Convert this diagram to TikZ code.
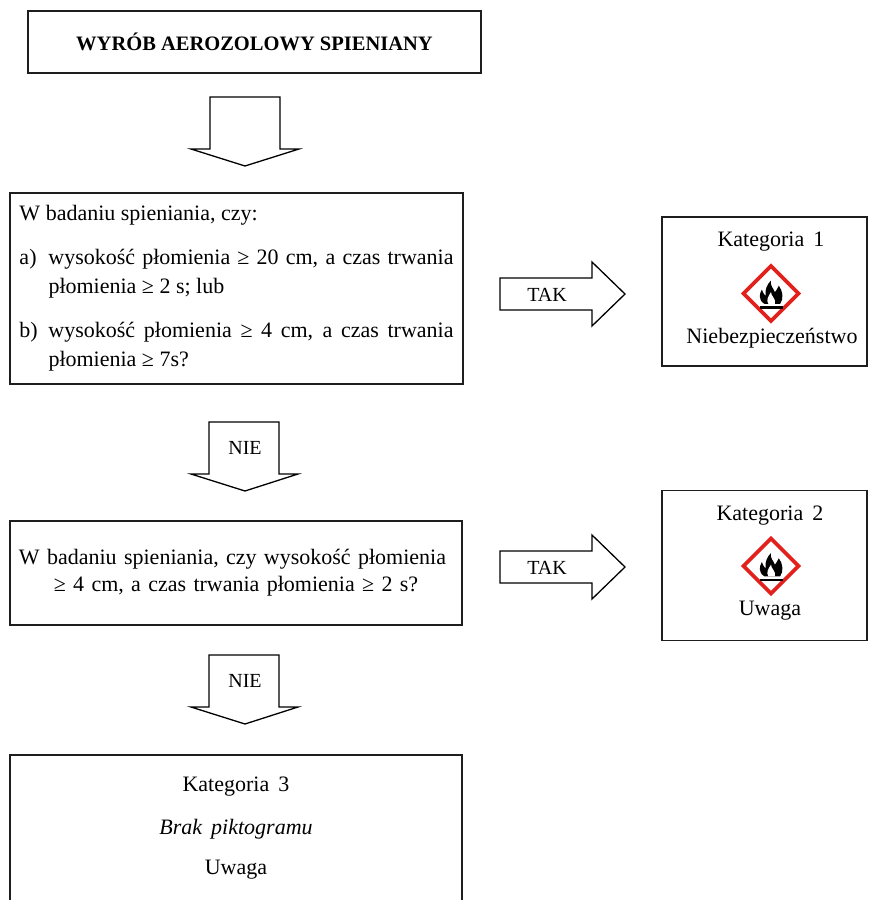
\documentclass[tikz,border=0pt]{standalone}
\usepackage{fontspec}
\setmainfont{Liberation Serif}
\definecolor{ghsred}{RGB}{226,32,28}
\definecolor{frame}{RGB}{30,30,30}
\tikzset{
  ghsflame/.pic={
    \draw[ghsred, line width=3.6pt, fill=white, line join=miter] (0,-27.5) -- (27.5,0) -- (0,27.5) -- (-27.5,0) -- cycle;
    \begin{scope}[scale=1.3, yshift=-1pt]
    \fill[black] (-5,7) .. controls (-10,4) and (-9,-1) .. (-7,-4)
      .. controls (-6,-1) and (-5,0) .. (-4,1)
      .. controls (-5,-4) and (-3,-8) .. (0,-11)
      .. controls (-1,-7) and (2,-5) .. (3,-2)
      .. controls (4,-3) and (5,-5) .. (6,-7)
      .. controls (9,-3) and (10,3) .. (7,7) -- cycle;
    \fill[white] (-2,7) .. controls (-4,4) and (-2,1) .. (0,-2)
      .. controls (0,1) and (4,3) .. (3,7) -- cycle;
    \fill[black] (-8.5,8.8) rectangle (9.5,10.6);
    \end{scope}
  }
}
\begin{document}
\begin{tikzpicture}[x=1pt,y=-1pt,
  boxline/.style={draw=frame, line width=1.7pt},
  blockarrow/.style={draw=black, line width=1.3pt, fill=white, line join=miter},
  bodytext/.style={font=\fontsize{22}{29}\selectfont},
  lbl/.style={font=\fontsize{20}{24}\selectfont, inner sep=0pt},
  plain/.style={font=\fontsize{22}{26}\selectfont, inner sep=0pt},
]
\useasboundingbox (0,0) rectangle (869,900);

% title
\node[boxline, minimum width=453pt, minimum height=62pt,
      font=\bfseries\fontsize{20.5}{24}\selectfont] (title) at (254.5,42) {WYRÓB AEROZOLOWY SPIENIANY};

% arrow 1 (down, empty)
\draw[blockarrow] (210,97) -- (280,97) -- (280,149) -- (299,149) -- (245,166) -- (191,149) -- (210,149) -- cycle;
\coordinate (a0) at (245,130);

% question 1
\node[boxline, minimum height=191pt, text width=434pt, inner xsep=9.5pt, inner ysep=0pt,
      align=justify, bodytext] (q1) at (236.5,288.5) {%
\parindent=0pt\parskip=15pt
W badaniu spieniania, czy:\par
\hangindent=29pt\hangafter=1 \makebox[29pt][l]{a)}wysokość płomienia ≥ 20 cm, a czas trwania\linebreak płomienia ≥ 2 s; lub\par
\hangindent=29pt\hangafter=1 \makebox[29pt][l]{b)}wysokość płomienia ≥ 4 cm, a czas trwania\linebreak płomienia ≥ 7s?\par};

% TAK arrow 1
\draw[blockarrow] (500,278) -- (592,278) -- (592,262) -- (625,294) -- (592,326) -- (592,310) -- (500,310) -- cycle;
\node[lbl] (tak1) at (547,295) {TAK};

% category 1
\node[boxline, minimum width=205pt, minimum height=149pt] (k1) at (764.5,291.5) {};
\node[plain] (k1t) at (771,242) {Kategoria\, 1};
\pic (p1) at (771,293.5) {ghsflame};
\node[plain] (k1s) at (772,338) {Niebezpieczeństwo};

% NIE arrow 1
\draw[blockarrow] (209,422) -- (279,422) -- (279,474) -- (298,474) -- (245,491) -- (191,474) -- (209,474) -- cycle;
\node[lbl] (nie1) at (245,448) {NIE};

% question 2
\node[boxline, minimum width=452pt, minimum height=104pt, text width=434pt, inner xsep=9pt,
      align=center, font=\fontsize{22}{27}\selectfont] (q2) at (236,573)
  {\makebox[434pt][s]{W badaniu spieniania, czy wysokość płomienia}\\ ≥ 4 cm, a czas trwania płomienia ≥ 2 s?};

% TAK arrow 2
\draw[blockarrow] (500,551) -- (592,551) -- (592,535) -- (625,567) -- (592,599) -- (592,583) -- (500,583) -- cycle;
\node[lbl] (tak2) at (547,568) {TAK};

% category 2
\node[boxline, minimum width=205pt, minimum height=150pt] (k2) at (764.5,565.5) {};
\node[plain] (k2t) at (770,516) {Kategoria\, 2};
\pic (p2) at (771,566) {ghsflame};
\node[plain] (k2s) at (770,611) {Uwaga};

% NIE arrow 2
\draw[blockarrow] (209,655) -- (279,655) -- (279,707) -- (298,707) -- (245,724) -- (191,707) -- (209,707) -- cycle;
\node[lbl] (nie2) at (245,681) {NIE};

% category 3
\draw[boxline] (10,920) -- (10,755) -- (462,755) -- (462,920);
\node[plain] (k3t) at (236,787) {Kategoria\, 3};
\node[plain, font=\itshape\fontsize{22}{26}\selectfont] (k3p) at (236,829) {Brak\, piktogramu};
\node[plain] (k3s) at (236,870) {Uwaga};
\end{tikzpicture}
\end{document}
